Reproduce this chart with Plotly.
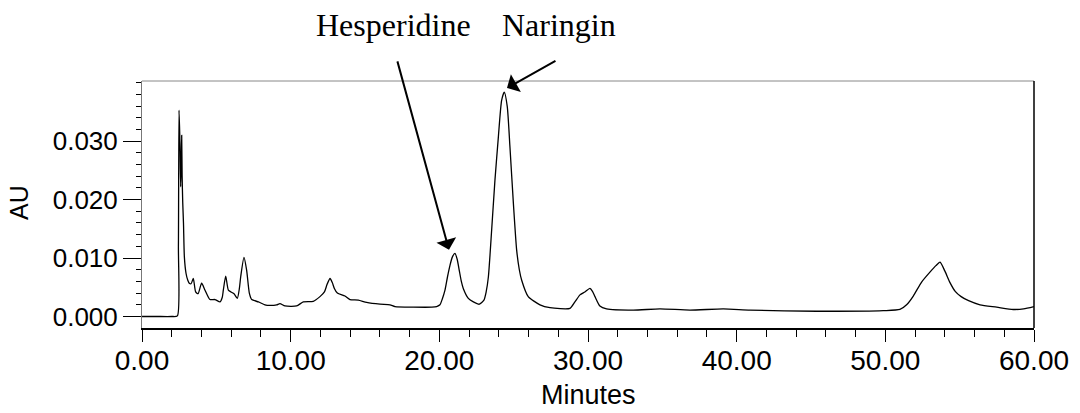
import plotly.graph_objects as go

# Retention time (minutes) and absorbance (AU)
time_min = [0.00, 1.00, 2.00, 2.38, 2.45, 2.49, 2.55, 2.60, 2.64, 2.67, 2.70, 2.74, 2.79, 2.85,
            2.96, 3.08, 3.18, 3.30, 3.45, 3.61, 3.77, 4.01, 4.24, 4.57, 4.91, 5.25, 5.40, 5.47,
            5.63, 5.81, 5.99, 6.19, 6.41, 6.55, 6.64, 6.86, 7.04, 7.22, 7.38, 7.83, 8.27, 8.61,
            9.06, 9.28, 9.62, 10.40, 10.85, 11.52, 11.97, 12.27, 12.45, 12.65, 12.80, 12.94,
            13.14, 13.65, 13.99, 14.55, 15.11, 16.01, 16.68, 17.02, 18.25, 19.50, 19.82, 20.04,
            20.20, 20.38, 20.55, 20.72, 20.88, 21.05, 21.20, 21.34, 21.48, 21.61, 21.95, 22.29,
            22.69, 23.00, 23.15, 23.30, 23.52, 23.74, 23.97, 24.19, 24.37, 24.57, 24.75, 24.98,
            25.20, 25.38, 25.54, 25.98, 26.77, 27.44, 28.79, 29.12, 29.46, 29.79, 30.13, 30.30,
            30.47, 30.80, 31.25, 33.05, 34.84, 36.86, 39.10, 40.90, 45.38, 49.86, 50.98, 51.43,
            51.88, 52.44, 53.00, 53.40, 53.68, 54.00, 54.35, 54.70, 55.10, 55.60, 56.37, 57.49,
            58.60, 59.30, 60.00]
absorbance = [0.0000, 0.0000, 0.0000, 0.0001, 0.0120, 0.0353, 0.0300, 0.0222, 0.0270, 0.0310,
              0.0240, 0.0195, 0.0160, 0.0102, 0.0074, 0.0062, 0.0057, 0.0056, 0.0065, 0.0042,
              0.0039, 0.0057, 0.0045, 0.0029, 0.0029, 0.0025, 0.0033, 0.0045, 0.0069, 0.0045,
              0.0042, 0.0039, 0.0031, 0.0048, 0.0068, 0.0101, 0.0079, 0.0040, 0.0029, 0.0025,
              0.0020, 0.0019, 0.0020, 0.0022, 0.0018, 0.0018, 0.0025, 0.0026, 0.0034, 0.0042,
              0.0055, 0.0065, 0.0058, 0.0048, 0.0040, 0.0035, 0.0029, 0.0028, 0.0024, 0.0021,
              0.0020, 0.0017, 0.0016, 0.0016, 0.0017, 0.0020, 0.0030, 0.0045, 0.0068, 0.0088,
              0.0102, 0.0108, 0.0098, 0.0079, 0.0060, 0.0048, 0.0031, 0.0025, 0.0021, 0.0028,
              0.0042, 0.0068, 0.0148, 0.0233, 0.0307, 0.0370, 0.0384, 0.0359, 0.0290, 0.0194,
              0.0114, 0.0080, 0.0062, 0.0034, 0.0020, 0.0015, 0.0014, 0.0025, 0.0037, 0.0042,
              0.0048, 0.0043, 0.0034, 0.0018, 0.0013, 0.0011, 0.0013, 0.0011, 0.0013, 0.0011,
              0.0009, 0.0010, 0.0012, 0.0020, 0.0035, 0.0059, 0.0076, 0.0087, 0.0093, 0.0078,
              0.0058, 0.0043, 0.0034, 0.0027, 0.0020, 0.0016, 0.0012, 0.0013, 0.0017]

x_ticks = [0, 10, 20, 30, 40, 50, 60]
x_tick_labels = ["0.00", "10.00", "20.00", "30.00", "40.00", "50.00", "60.00"]
y_ticks = [0.000, 0.010, 0.020, 0.030]
y_tick_labels = ["0.000", "0.010", "0.020", "0.030"]

peak_names = ["Hesperidine", "Naringin"]
peak_label_x = [16.95, 28.05]
peak_arrow_x = [20.65, 24.55]
peak_arrow_y = [0.0114, 0.0391]
peak_arrow_dx = [-52, 50]
peak_arrow_dy = [-190, -28]

fig = go.Figure()
fig.add_trace(go.Scatter(
    x=time_min, y=absorbance, mode="lines",
    line=dict(color="black", width=1.3, shape="spline", smoothing=0.6),
    hoverinfo="skip", showlegend=False,
))

sans = "Liberation Sans, Arial, sans-serif"
serif = "Liberation Serif, Times New Roman, serif"

fig.update_xaxes(
    range=[0, 60], tickvals=x_ticks, ticktext=x_tick_labels,
    ticks="outside", ticklen=12, tickwidth=1, tickcolor="black",
    minor=dict(dtick=2, ticks="outside", ticklen=7, tickcolor="black", tickwidth=1),
    showline=True, linecolor="black", linewidth=1.5, mirror=False,
    showgrid=False, zeroline=False, automargin=False, ticklabelstandoff=-5,
    tickfont=dict(family=sans, size=28, color="black"),
)
fig.update_yaxes(
    range=[-0.00197, 0.0403], tickvals=y_ticks, ticktext=y_tick_labels,
    ticks="outside", ticklen=18, tickwidth=1, tickcolor="black",
    minor=dict(dtick=0.002, ticks="outside", ticklen=5, tickcolor="black", tickwidth=1),
    showline=True, linecolor="#777777", linewidth=1, mirror=False,
    showgrid=False, zeroline=False, automargin=False,
    tickfont=dict(family=sans, size=26, color="black"),
)

# frame top (grey) and right (black)
fig.add_shape(type="line", xref="paper", yref="paper", x0=0, x1=1, y0=1, y1=1,
              line=dict(color="#888888", width=1))
fig.add_shape(type="line", xref="paper", yref="paper", x0=1, x1=1, y0=0, y1=1,
              line=dict(color="black", width=1.5))

# axis titles
fig.add_annotation(text="Minutes", xref="paper", yref="paper", x=0.5, y=-0.271,
                   xanchor="center", yanchor="middle", showarrow=False,
                   font=dict(family=sans, size=27, color="black"))
fig.add_annotation(text="AU", xref="paper", yref="paper", x=-0.138, y=0.51,
                   xanchor="center", yanchor="middle", showarrow=False, textangle=-90,
                   font=dict(family=sans, size=25, color="black"))

for name, lx, ax_, ay_, dx, dy in zip(peak_names, peak_label_x, peak_arrow_x,
                                      peak_arrow_y, peak_arrow_dx, peak_arrow_dy):
    fig.add_annotation(text=name, xref="x", yref="paper", x=lx, y=1.225,
                       xanchor="center", yanchor="middle", showarrow=False,
                       font=dict(family=serif, size=32, color="black"))
    fig.add_annotation(text="", xref="x", yref="y", x=ax_, y=ay_,
                       ax=dx, ay=dy, axref="pixel", ayref="pixel",
                       showarrow=True, arrowhead=1, arrowsize=1.7, arrowwidth=2,
                       arrowcolor="black")

fig.update_layout(
    width=1080, height=413,
    margin=dict(l=142, r=46, t=81, b=85),
    paper_bgcolor="white", plot_bgcolor="white",
)

fig.write_html("out.html", config={"displayModeBar": False},
               post_script="document.body.style.margin='0px';document.body.style.overflow='hidden';")
